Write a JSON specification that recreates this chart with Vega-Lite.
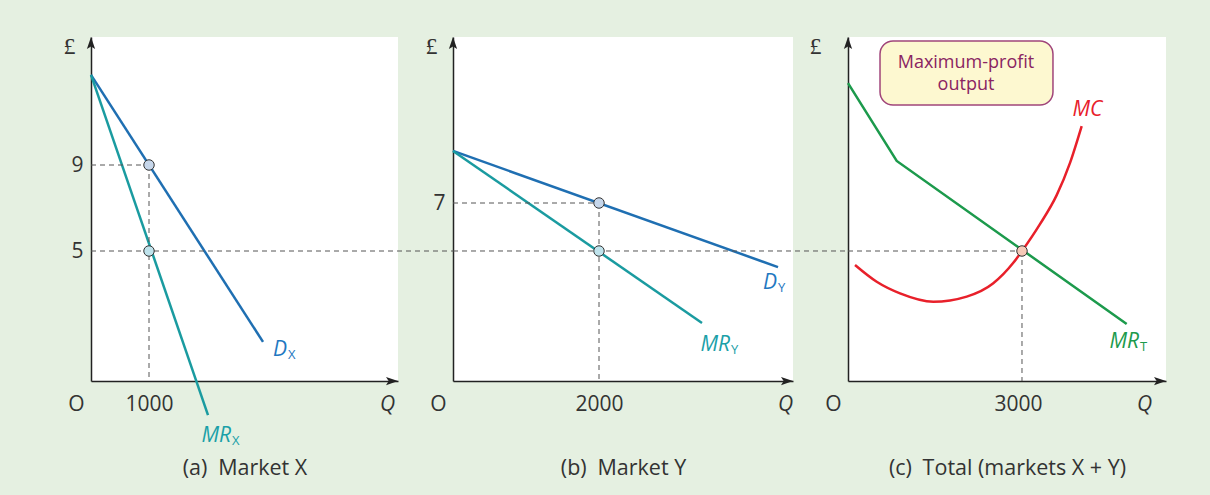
{
  "$schema": "https://vega.github.io/schema/vega-lite/v6.json",
  "background": "#e5f0e1",
  "padding": {"left": 63, "top": 34, "right": 60, "bottom": 40},
  "bounds": "flush",
  "spacing": 55,
  "resolve": {"scale": {"x": "independent", "y": "independent"}, "axis": {"x": "independent", "y": "independent"}},
  "config": {
    "font": "Open Sans",
    "view": {"stroke": null, "fill": "white"},
    "axis": {
      "grid": false, "ticks": false, "tickSize": 0,
      "domainColor": "#222", "domainWidth": 1.5,
      "labelFont": "Open Sans", "labelFontSize": 21, "labelColor": "#333",
      "labelFlush": false, "labelOverlap": false, "labelBound": false,
      "titleFont": "Open Sans", "titleFontWeight": "normal", "titleFontSize": 21.5, "titleColor": "#333"
    }
  },
  "datasets": {
    "one": [{"k": 1}],
    "dx": [{"q": 0, "p": 13.19}, {"q": 2966, "p": 0.77}],
    "mrx": [{"q": 0, "p": 13.19}, {"q": 2017, "p": -2.63}],
    "ptsX": [{"q": 1000, "p": 9, "role": "price"}, {"q": 1000, "p": 5, "role": "mr"}],
    "dy": [{"q": 0, "p": 9.17}, {"q": 4452, "p": 4.33}],
    "mry": [{"q": 0, "p": 9.17}, {"q": 3411, "p": 2.0}],
    "ptsY": [{"q": 2000, "p": 7, "role": "price"}, {"q": 2000, "p": 5, "role": "mr"}],
    "mrt": [{"q": 0, "p": 12.81}, {"q": 840, "p": 9.19}, {"q": 4805, "p": 1.6}],
    "mc": [
      {"q": 121, "p": 4.35}, {"q": 495, "p": 3.57}, {"q": 897, "p": 3.03},
      {"q": 1471, "p": 2.64}, {"q": 2047, "p": 2.88}, {"q": 2505, "p": 3.5},
      {"q": 2850, "p": 4.45}, {"q": 3000, "p": 5.0}, {"q": 3310, "p": 6.25},
      {"q": 3598, "p": 7.6}, {"q": 3828, "p": 9.1}, {"q": 4029, "p": 10.81}
    ],
    "ptsT": [{"q": 3000, "p": 5, "role": "profit"}]
  },
  "hconcat": [
    {
      "width": 307, "height": 344,
      "data": {"name": "one"},
      "layer": [
        {"data": {"name": "dx"}, "mark": {"type": "line", "color": "#1f6fb2", "strokeWidth": 2.5},
         "encoding": {
           "x": {"field": "q", "type": "quantitative",
             "scale": {"domain": [0, 5293], "nice": false, "zero": false},
             "axis": {"values": [0, 1000, 5293], "format": "d",
               "labelExpr": "datum.value == 0 ? 'O' : datum.value > 4000 ? 'Q' : datum.label",
               "labelFontStyle": {"condition": {"test": "datum.value > 4000", "value": "italic"}, "value": "normal"},
               "labelOffset": {"condition": [{"test": "datum.value == 0", "value": -15}, {"test": "datum.value > 4000", "value": -11}], "value": 0},
               "labelPadding": 23, "labelBaseline": "middle",
               "title": "(a)\u2002Market X", "titleY": 87, "titleBaseline": "middle"}},
           "y": {"field": "p", "type": "quantitative",
             "scale": {"domain": [-1.0465, 14.9535], "nice": false, "zero": false},
             "axis": {"values": [5, 9], "labelPadding": 8,
               "title": "£", "titleAngle": 0, "titleX": -22, "titleY": 9, "titleAlign": "center", "titleBaseline": "middle",
               "titleFont": "Liberation Serif", "titleFontSize": 24}}
         }},
        {"data": {"name": "mrx"}, "mark": {"type": "line", "color": "#1a9ba0", "strokeWidth": 2.5},
         "encoding": {"x": {"field": "q", "type": "quantitative"}, "y": {"field": "p", "type": "quantitative"}}},
        {"mark": {"type": "rule", "strokeDash": [5, 4], "color": "#555", "strokeWidth": 1},
         "encoding": {"x": {"datum": 0}, "x2": {"datum": 1000}, "y": {"datum": 9}}},
        {"mark": {"type": "rule", "strokeDash": [5, 4], "color": "#555", "strokeWidth": 1},
         "encoding": {"x": {"datum": 0}, "x2": {"datum": 6379}, "y": {"datum": 5}}},
        {"mark": {"type": "rule", "strokeDash": [5, 4], "color": "#555", "strokeWidth": 1},
         "encoding": {"x": {"datum": 1000}, "y": {"datum": 9}, "y2": {"datum": -1.0465}}},
        {"data": {"name": "ptsX"},
         "mark": {"type": "point", "filled": true, "size": 110, "stroke": "#333", "strokeWidth": 1, "opacity": 1},
         "encoding": {"x": {"field": "q", "type": "quantitative"}, "y": {"field": "p", "type": "quantitative"},
           "fill": {"condition": {"test": "datum.role === 'price'", "value": "#c6d6ea"}, "value": "#bfe3ec"}}},
        {"mark": {"type": "text", "text": "D", "fontStyle": "italic", "fontSize": 21, "align": "right", "baseline": "middle", "color": "#1f78c1"},
         "encoding": {"x": {"datum": 3379}, "y": {"datum": 0.395}}},
        {"mark": {"type": "text", "text": "X", "fontSize": 13, "align": "left", "baseline": "middle", "dy": 5, "dx": 1, "color": "#1f78c1"},
         "encoding": {"x": {"datum": 3379}, "y": {"datum": 0.395}}},
        {"mark": {"type": "text", "text": "MR", "fontStyle": "italic", "fontSize": 21, "align": "right", "baseline": "middle", "color": "#1aa0a8"},
         "encoding": {"x": {"datum": 2414}, "y": {"datum": -3.6}}},
        {"mark": {"type": "text", "text": "X", "fontSize": 13, "align": "left", "baseline": "middle", "dy": 5, "dx": 1, "color": "#1aa0a8"},
         "encoding": {"x": {"datum": 2414}, "y": {"datum": -3.6}}},
        {"mark": {"type": "point", "shape": "M0,0L0.55,1.6L0,1.25L-0.55,1.6Z", "filled": true, "color": "#222", "size": 225, "opacity": 1},
         "encoding": {"x": {"datum": 0}, "y": {"datum": 14.9535}}},
        {"mark": {"type": "point", "shape": "M0,0L-1.6,-0.55L-1.25,0L-1.6,0.55Z", "filled": true, "color": "#222", "size": 225, "opacity": 1},
         "encoding": {"x": {"datum": 5293}, "y": {"datum": -1.0465}}}
      ]
    },
    {
      "width": 340, "height": 344,
      "data": {"name": "one"},
      "layer": [
        {"data": {"name": "dy"}, "mark": {"type": "line", "color": "#1f6fb2", "strokeWidth": 2.5},
         "encoding": {
           "x": {"field": "q", "type": "quantitative",
             "scale": {"domain": [0, 4657.5], "nice": false, "zero": false},
             "axis": {"values": [0, 2000, 4657.5], "format": "d",
               "labelExpr": "datum.value == 0 ? 'O' : datum.value > 4000 ? 'Q' : datum.label",
               "labelFontStyle": {"condition": {"test": "datum.value > 4000", "value": "italic"}, "value": "normal"},
               "labelOffset": {"condition": [{"test": "datum.value == 0", "value": -15}, {"test": "datum.value > 4000", "value": -8}], "value": 0},
               "labelPadding": 23, "labelBaseline": "middle",
               "title": "(b)\u2002Market Y", "titleY": 87, "titleBaseline": "middle"}},
           "y": {"field": "p", "type": "quantitative",
             "scale": {"domain": [-0.4167, 13.9167], "nice": false, "zero": false},
             "axis": {"values": [7], "labelPadding": 8,
               "title": "£", "titleAngle": 0, "titleX": -22, "titleY": 9, "titleAlign": "center", "titleBaseline": "middle",
               "titleFont": "Liberation Serif", "titleFontSize": 24}}
         }},
        {"data": {"name": "mry"}, "mark": {"type": "line", "color": "#1a9ba0", "strokeWidth": 2.5},
         "encoding": {"x": {"field": "q", "type": "quantitative"}, "y": {"field": "p", "type": "quantitative"}}},
        {"mark": {"type": "rule", "strokeDash": [5, 4], "color": "#555", "strokeWidth": 1},
         "encoding": {"x": {"datum": 0}, "x2": {"datum": 2000}, "y": {"datum": 7}}},
        {"mark": {"type": "rule", "strokeDash": [5, 4], "color": "#555", "strokeWidth": 1},
         "encoding": {"x": {"datum": 0}, "x2": {"datum": 5589}, "y": {"datum": 5}}},
        {"mark": {"type": "rule", "strokeDash": [5, 4], "color": "#555", "strokeWidth": 1},
         "encoding": {"x": {"datum": 2000}, "y": {"datum": 7}, "y2": {"datum": -0.4167}}},
        {"data": {"name": "ptsY"},
         "mark": {"type": "point", "filled": true, "size": 110, "stroke": "#333", "strokeWidth": 1, "opacity": 1},
         "encoding": {"x": {"field": "q", "type": "quantitative"}, "y": {"field": "p", "type": "quantitative"},
           "fill": {"condition": {"test": "datum.role === 'price'", "value": "#c6d6ea"}, "value": "#bfe3ec"}}},
        {"mark": {"type": "text", "text": "D", "fontStyle": "italic", "fontSize": 21, "align": "right", "baseline": "middle", "color": "#1f78c1"},
         "encoding": {"x": {"datum": 4438}, "y": {"datum": 3.646}}},
        {"mark": {"type": "text", "text": "Y", "fontSize": 13, "align": "left", "baseline": "middle", "dy": 5, "dx": 1, "color": "#1f78c1"},
         "encoding": {"x": {"datum": 4438}, "y": {"datum": 3.646}}},
        {"mark": {"type": "text", "text": "MR", "fontStyle": "italic", "fontSize": 21, "align": "right", "baseline": "middle", "color": "#1aa0a8"},
         "encoding": {"x": {"datum": 3795}, "y": {"datum": 1.083}}},
        {"mark": {"type": "text", "text": "Y", "fontSize": 13, "align": "left", "baseline": "middle", "dy": 5, "dx": 1, "color": "#1aa0a8"},
         "encoding": {"x": {"datum": 3795}, "y": {"datum": 1.083}}},
        {"mark": {"type": "point", "shape": "M0,0L0.55,1.6L0,1.25L-0.55,1.6Z", "filled": true, "color": "#222", "size": 225, "opacity": 1},
         "encoding": {"x": {"datum": 0}, "y": {"datum": 13.9167}}},
        {"mark": {"type": "point", "shape": "M0,0L-1.6,-0.55L-1.25,0L-1.6,0.55Z", "filled": true, "color": "#222", "size": 225, "opacity": 1},
         "encoding": {"x": {"datum": 4657.5}, "y": {"datum": -0.4167}}}
      ]
    },
    {
      "width": 318, "height": 344,
      "data": {"name": "one"},
      "layer": [
        {"data": {"name": "mrt"}, "mark": {"type": "line", "color": "#1c9a4c", "strokeWidth": 2.5},
         "encoding": {
           "x": {"field": "q", "type": "quantitative",
             "scale": {"domain": [0, 5482.8], "nice": false, "zero": false},
             "axis": {"values": [0, 3000, 5482.8], "format": "d",
               "labelExpr": "datum.value == 0 ? 'O' : datum.value > 4000 ? 'Q' : datum.label",
               "labelFontStyle": {"condition": {"test": "datum.value > 4000", "value": "italic"}, "value": "normal"},
               "labelOffset": {"condition": [{"test": "datum.value == 0", "value": -15}, {"test": "datum.value > 4000", "value": -22}], "value": -4},
               "labelPadding": 23, "labelBaseline": "middle",
               "title": "(c)\u2002Total (markets X + Y)", "titleY": 87, "titleBaseline": "middle"}},
           "y": {"field": "p", "type": "quantitative",
             "scale": {"domain": [-1.0465, 14.9535], "nice": false, "zero": false},
             "axis": {"values": [], "labels": false,
               "title": "£", "titleAngle": 0, "titleX": -33, "titleY": 9, "titleAlign": "center", "titleBaseline": "middle",
               "titleFont": "Liberation Serif", "titleFontSize": 24}}
         }},
        {"mark": {"type": "rule", "strokeDash": [5, 4], "color": "#555", "strokeWidth": 1},
         "encoding": {"x": {"datum": 0}, "x2": {"datum": 3000}, "y": {"datum": 5}}},
        {"mark": {"type": "rule", "strokeDash": [5, 4], "color": "#555", "strokeWidth": 1},
         "encoding": {"x": {"datum": 3000}, "y": {"datum": 5}, "y2": {"datum": -1.0465}}},
        {"mark": {"type": "rect", "cornerRadius": 13, "fill": "#fdf8d0", "stroke": "#a0457a", "strokeWidth": 1.5},
         "encoding": {"x": {"datum": 552}, "x2": {"datum": 3534}, "y": {"datum": 14.767}, "y2": {"datum": 11.79}}},
        {"mark": {"type": "text", "text": ["Maximum-profit", "output"], "lineHeight": 21.5, "fontSize": 18, "align": "center", "baseline": "middle", "color": "#8a2462"},
         "encoding": {"x": {"datum": 2034}, "y": {"datum": 13.744}}},
        {"data": {"name": "mc"}, "mark": {"type": "line", "color": "#e8202a", "strokeWidth": 2.5, "interpolate": "monotone"},
         "encoding": {"x": {"field": "q", "type": "quantitative"}, "y": {"field": "p", "type": "quantitative"}}},
        {"data": {"name": "ptsT"},
         "mark": {"type": "point", "filled": true, "size": 110, "stroke": "#333", "strokeWidth": 1, "opacity": 1, "fill": "#f6c9b8"},
         "encoding": {"x": {"field": "q", "type": "quantitative"}, "y": {"field": "p", "type": "quantitative"}}},
        {"mark": {"type": "text", "text": "MC", "fontStyle": "italic", "fontSize": 21, "align": "center", "baseline": "middle", "color": "#e8202a"},
         "encoding": {"x": {"datum": 4129}, "y": {"datum": 11.558}}},
        {"mark": {"type": "text", "text": "MR", "fontStyle": "italic", "fontSize": 21, "align": "right", "baseline": "middle", "color": "#1c9a4c"},
         "encoding": {"x": {"datum": 5017}, "y": {"datum": 0.767}}},
        {"mark": {"type": "text", "text": "T", "fontSize": 13, "align": "left", "baseline": "middle", "dy": 5, "dx": 1, "color": "#1c9a4c"},
         "encoding": {"x": {"datum": 5017}, "y": {"datum": 0.767}}},
        {"mark": {"type": "point", "shape": "M0,0L0.55,1.6L0,1.25L-0.55,1.6Z", "filled": true, "color": "#222", "size": 225, "opacity": 1},
         "encoding": {"x": {"datum": 0}, "y": {"datum": 14.9535}}},
        {"mark": {"type": "point", "shape": "M0,0L-1.6,-0.55L-1.25,0L-1.6,0.55Z", "filled": true, "color": "#222", "size": 225, "opacity": 1},
         "encoding": {"x": {"datum": 5482.8}, "y": {"datum": -1.0465}}}
      ]
    }
  ]
}
